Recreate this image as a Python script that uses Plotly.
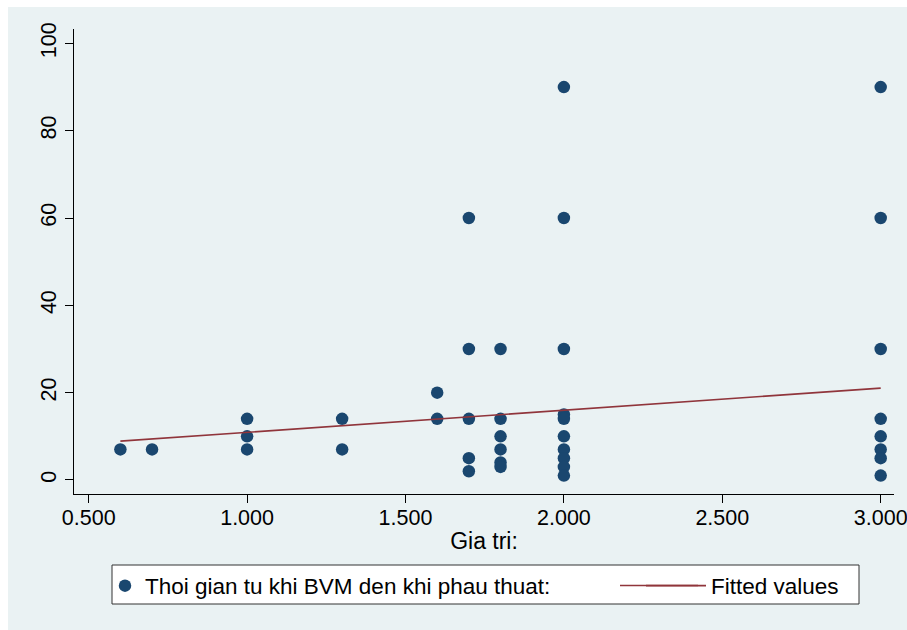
import plotly.graph_objects as go

# Gia tri (x) and waiting time in days (y)
gia_tri = [0.6, 0.7,
           1.0, 1.0, 1.0,
           1.3, 1.3,
           1.6, 1.6,
           1.7, 1.7, 1.7, 1.7, 1.7,
           1.8, 1.8, 1.8, 1.8, 1.8, 1.8,
           2.0, 2.0, 2.0, 2.0, 2.0, 2.0, 2.0, 2.0, 2.0, 2.0,
           3.0, 3.0, 3.0, 3.0, 3.0, 3.0, 3.0, 3.0]
thoi_gian = [7, 7,
             14, 10, 7,
             14, 7,
             20, 14,
             60, 30, 14, 5, 2,
             30, 14, 10, 7, 4, 3,
             90, 60, 30, 15, 14, 10, 7, 5, 3, 1,
             90, 60, 30, 14, 10, 7, 5, 1]

# Linear fit coefficients
fit_intercept = 5.86
fit_slope = 5.06
fit_x = [min(gia_tri), max(gia_tri)]
fit_y = [fit_intercept + fit_slope * v for v in fit_x]

x_ticks = [0.5, 1.0, 1.5, 2.0, 2.5, 3.0]
x_ticklabels = ["0.500", "1.000", "1.500", "2.000", "2.500", "3.000"]
y_ticks = [0, 20, 40, 60, 80, 100]

NAVY = "#1a476f"
MAROON = "#90353b"
BG = "#eaf2f3"
FONT = "Liberation Sans, Arial, sans-serif"

W, H = 907, 630
L, R, T, B = 74, 13, 29, 136
pw, ph = W - L - R, H - T - B


def px_x(p):
    return (p - L) / pw


def px_y(p):
    return (T + ph - p) / ph


fig = go.Figure()
fig.add_trace(go.Scatter(
    x=gia_tri, y=thoi_gian, mode="markers",
    name="Thoi gian tu khi BVM den khi phau thuat:",
    marker=dict(color=NAVY, size=12.5, line=dict(width=0)),
    legend="legend",
))
fig.add_trace(go.Scatter(
    x=fit_x, y=fit_y, mode="lines", name="Fitted values",
    line=dict(color=MAROON, width=1.6),
    legend="legend2",
))

# outer light panel
fig.add_shape(type="rect", xref="paper", yref="paper", layer="below",
              x0=px_x(8), x1=px_x(W + 2), y0=px_y(H + 2), y1=px_y(7),
              fillcolor=BG, line=dict(width=0))
# legend frame
fig.add_shape(type="rect", xref="paper", yref="paper", layer="below",
              x0=px_x(112), x1=px_x(859), y0=px_y(604), y1=px_y(565),
              fillcolor="white", line=dict(color="#333333", width=1))
# longer key line for the fitted values entry
fig.add_shape(type="line", xref="paper", yref="paper",
              x0=px_x(620), x1=px_x(698), y0=px_y(585.5), y1=px_y(585.5),
              line=dict(color=MAROON, width=1.6))

legend_common = dict(
    orientation="h", xanchor="left", yanchor="middle",
    bgcolor="rgba(0,0,0,0)", borderwidth=0,
    font=dict(size=22.5, family=FONT, color="black"),
)

fig.update_layout(
    width=W, height=H,
    margin=dict(l=L, r=R, t=T, b=B, autoexpand=False),
    paper_bgcolor="white", plot_bgcolor="white",
    font=dict(family=FONT, color="black", size=21),
    showlegend=True,
    legend=dict(x=px_x(105), y=px_y(586), **legend_common),
    legend2=dict(x=px_x(641), y=px_y(586), itemwidth=60, **legend_common),
    xaxis=dict(
        range=[0.4536, 3.042], tickvals=x_ticks, ticktext=x_ticklabels,
        showgrid=False, zeroline=False, showline=True, linecolor="black", linewidth=1,
        ticks="outside", ticklen=8, tickcolor="black", tickfont=dict(size=21.5),
        ticklabeloverflow="allow", ticklabelstandoff=-4,
        title=dict(text="Gia tri:", font=dict(size=23), standoff=4),
    ),
    yaxis=dict(
        range=[-3.21, 103.3], tickvals=y_ticks,
        showgrid=True, gridcolor=BG, gridwidth=1.2, zeroline=False,
        showline=True, linecolor="black", linewidth=1,
        ticks="outside", ticklen=8, tickcolor="black",
        tickangle=-90, tickfont=dict(size=21.5),
    ),
)

fig.write_html("out.html")
